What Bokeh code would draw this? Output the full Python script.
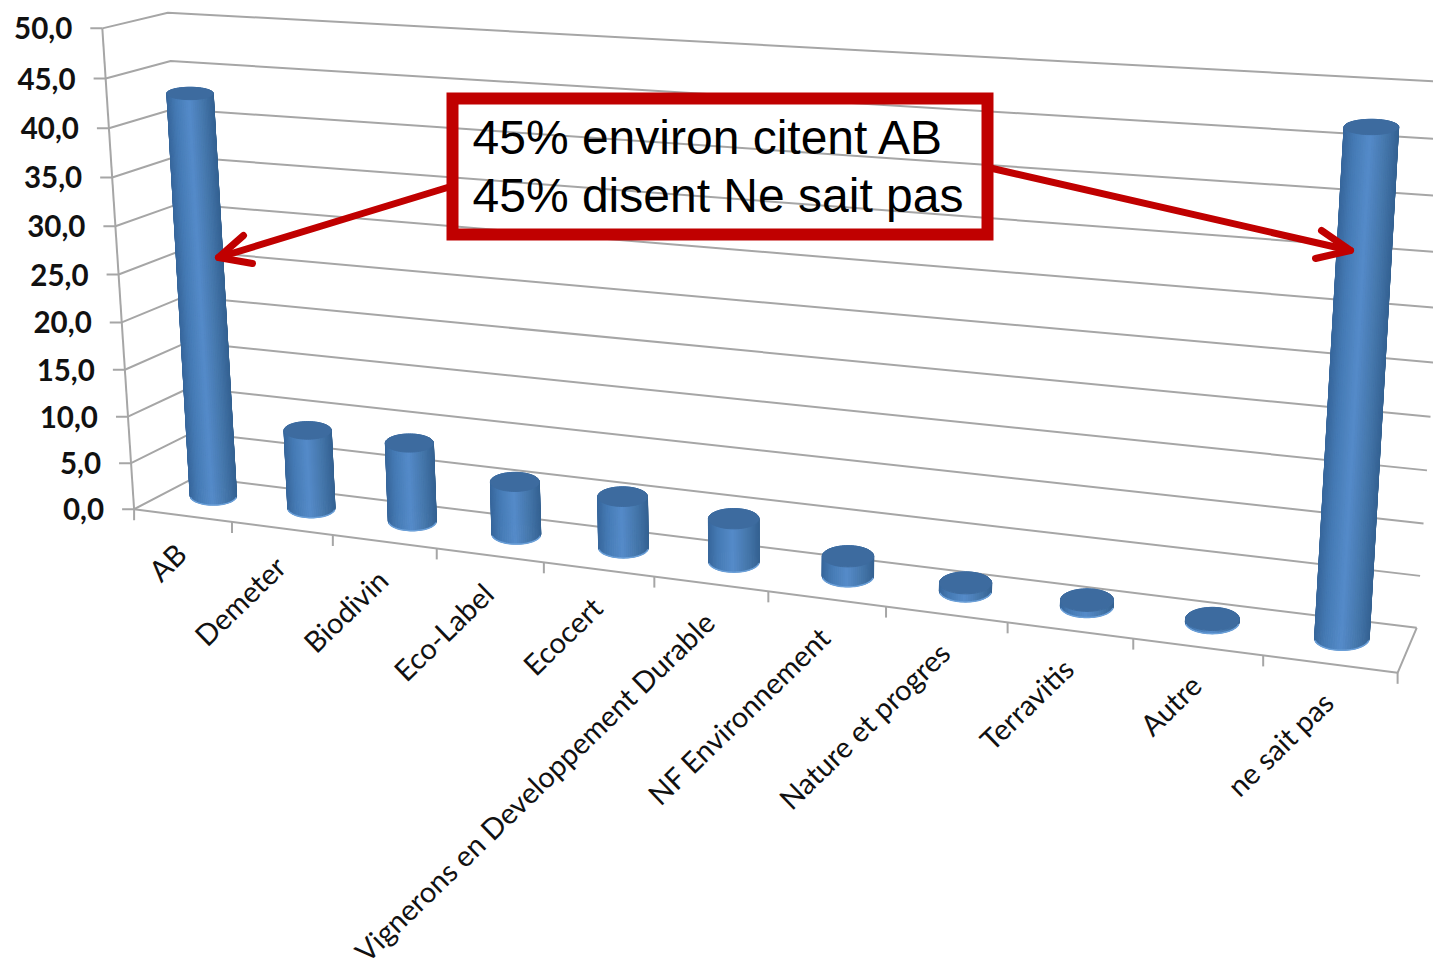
import numpy as np
from bokeh.plotting import figure
from bokeh.core.properties import value
from bokeh.embed import file_html
from bokeh.resources import INLINE
from bokeh.models import Range1d

# ---- data
categories = ["AB", "Demeter", "Biodivin", "Eco-Label", "Ecocert",
              "Vignerons en Developpement Durable", "NF Environnement",
              "Nature et progres", "Terravitis", "Autre", "ne sait pas"]
values = [42.6, 8.4, 8.3, 5.5, 5.3, 4.4, 2.0, 0.8, 0.6, 0.3, 46.5]
value_ticks = [0, 5, 10, 15, 20, 25, 30, 35, 40, 45, 50]
value_labels = ["0,0", "5,0", "10,0", "15,0", "20,0", "25,0", "30,0", "35,0", "40,0", "45,0", "50,0"]
callout_lines = ["45% environ citent AB", "45% disent Ne sait pas"]

# ---- camera of the 3D chart: (c, d, v) -> page pixels, fitted on the frame of the box
left_axis_x = [134, 131, 128, 125, 122, 118, 114, 111, 108, 105, 101]
left_axis_y = [509, 461, 415, 368, 322, 274, 226, 176, 128, 78, 28]
front_tick_x = [134, 232, 332, 437, 544, 654, 767, 885, 1007, 1133, 1261, 1398]
anchors = []
for v, x, y in zip(value_ticks, left_axis_x, left_axis_y):
    anchors.append((0, 0, v, x, y))
for k, x in enumerate(front_tick_x):
    anchors.append((k / 11, 0, 0, x, 509 + (x - 134) * 164 / 1264))
anchors += [(0, 1, 50, 167, 12.5), (0, 1, 45, 172, 61), (0, 1, 0, 193, 478),
            (1, 1, 0, 1416, 627), (1, 1, 5, 1420, 574), (1, 1, 10, 1423, 522),
            (1, 1, 15, 1426, 469), (1, 1, 20, 1431, 416), (1, 1, 50, 1452, 83)]
rows = []
for c, d, v, x, y in anchors:
    P = [c, d, v / 50, 1]
    rows.append(P + [0, 0, 0, 0] + [-x / 1000 * q for q in P])
    rows.append([0, 0, 0, 0] + P + [-y / 1000 * q for q in P])
cam = np.linalg.svd(np.array(rows))[2][-1].reshape(3, 4)


def project(c, d, v):
    c, d, v = np.broadcast_arrays(np.asarray(c, float), np.asarray(d, float), np.asarray(v, float) / 50)
    P = np.stack([c, d, v, np.ones_like(c)])
    q = cam @ P
    return q[0] / q[2] * 1000, q[1] / q[2] * 1000


W, H = 1433, 971
p = figure(width=W, height=H, output_backend="svg", toolbar_location=None,
           x_range=Range1d(0, W), y_range=Range1d(H, 0), min_border=0,
           outline_line_color=None, background_fill_color="white", border_fill_color="white")
p.axis.visible = False
p.grid.visible = False

GRID = "#a6a6a6"
# back wall, left wall
for v in value_ticks:
    x, y = project([0, 0, 1], [0, 1, 1], [v, v, v])
    p.line(x, y, line_color=GRID, line_width=2)
# floor and axis frame
x, y = project([0, 1, 1], [0, 0, 1], [0, 0, 0])
p.line(x, y, line_color=GRID, line_width=2)
x, y = project([0, 0], [0, 0], [0, 50])
p.line(x, y, line_color=GRID, line_width=2)
# value ticks and labels
tx, ty = project(np.zeros(len(value_ticks)), np.zeros(len(value_ticks)), value_ticks)
p.segment(tx - 12, ty, tx, ty, line_color=GRID, line_width=2)
p.text(tx - 30, ty, text=value_labels, text_align="right", text_baseline="middle",
       text_font=value("Lato"), text_font_size="29.5px", text_color="#111111", text_font_style="bold")
# category ticks and labels
edges = np.arange(len(categories) + 1) / len(categories)
ex, ey = project(edges, 0 * edges, 0 * edges)
p.segment(ex, ey, ex, ey + 11, line_color=GRID, line_width=2)
centers = (np.arange(len(categories)) + 0.5) / len(categories)
lx, ly = project(centers, 0 * centers, 0 * centers)
p.text(lx - 2, ly + 33, text=categories, text_align="right", text_baseline="middle", angle=0.77,
       text_font=value("Lato"), text_font_size="29px", text_color="#111111")


def shade(s):
    stops_s = [-1.0, -0.6, -0.05, 0.5, 1.0]
    r = np.interp(s, stops_s, [0x38, 0x46, 0x55, 0x46, 0x35])
    g = np.interp(s, stops_s, [0x67, 0x7b, 0x8b, 0x78, 0x62])
    b = np.interp(s, stops_s, [0x9c, 0xb5, 0xc9, 0xad, 0x92])
    return "#%02x%02x%02x" % (int(r), int(g), int(b))


# cylinders: flat ellipses around the projected axis of each bar
DEPTH, BAR_DY = 0.5, -3
theta = np.linspace(0, 2 * np.pi, 73)
for c, val in zip(centers, values):
    base_x, base_y = project(c, DEPTH, 0)
    top_x, top_y = project(c, DEPTH, val)
    base_x, base_y, top_x, top_y = base_x + c, base_y + BAR_DY, top_x + c, top_y + BAR_DY
    rx = 23 + 4.5 * c
    ry = 9 + 3 * c
    ry_top = ry * (1 - 0.0076 * val)
    bx = base_x + rx * np.cos(theta)
    by = base_y + ry * np.sin(theta)
    tx2 = top_x + rx * np.cos(theta)
    ty2 = top_y + ry_top * np.sin(theta)
    order = np.argsort(np.sin((theta[:-1] + theta[1:]) / 2))
    xs, ys, cols = [], [], []
    for i in order:
        xs.append([bx[i], bx[i + 1], tx2[i + 1], tx2[i]])
        ys.append([by[i], by[i + 1], ty2[i + 1], ty2[i]])
        cols.append(shade(np.cos((theta[i] + theta[i + 1]) / 2)))
    p.patches(xs, ys, fill_color=cols, line_color=cols, line_width=1)
    front = np.sin(theta) > 0.1
    p.line(bx[front], by[front], line_color="#6a9fd8", line_width=1.5)
    p.patch(tx2, ty2, fill_color="#3d6b9f", line_color="#3d6b9f", line_width=1)

# callout
RED = "#c00000"
p.quad(left=[452], right=[987], top=[98], bottom=[234], fill_alpha=0,
       line_color=RED, line_width=12, line_join="miter")
p.text([472, 472], [155, 213], text=callout_lines, text_font=value("Liberation Sans"),
       text_font_size="48px", text_color="#000000", text_baseline="alphabetic", y_offset=-18)
p.multi_line([[447, 218], [243, 218, 252], [992, 1350], [1321, 1350, 1315]],
             [[187, 257], [235, 257, 263], [168, 250], [230, 250, 258]],
             line_color=RED, line_width=7, line_cap="round", line_join="round")

open("out.html", "w").write(file_html(p, INLINE))
